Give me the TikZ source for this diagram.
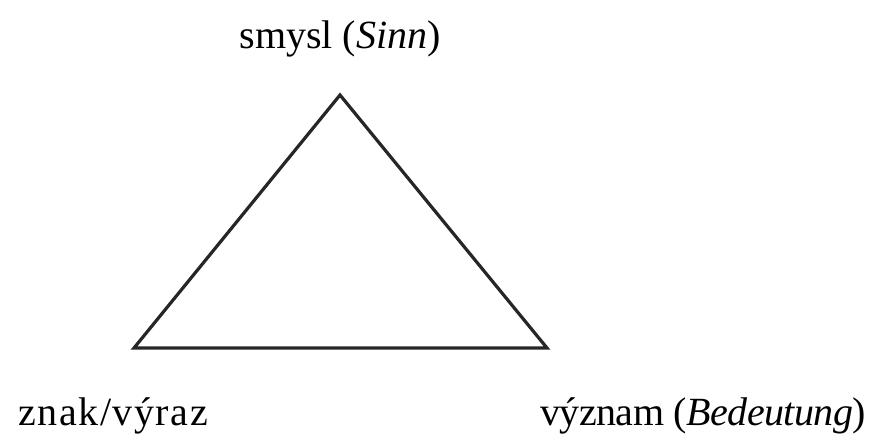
\documentclass[tikz,border=0pt]{standalone}
\usepackage{fontspec}
\setmainfont{Liberation Serif}
\begin{document}
\begin{tikzpicture}[x=1pt,y=-1pt,
  lbl/.style={inner sep=0pt,font=\fontsize{40}{46}\selectfont},
  edge/.style={line width=3.2pt,line join=miter,draw=black!85}]
\useasboundingbox (0,0) rectangle (871,439);
\coordinate (t) at (340,95);
\coordinate (l) at (134,348);
\coordinate (r) at (547,348);
\draw[edge] (t) -- (l) -- (r) -- cycle;
\node[lbl,anchor=base] (s) at (340,48) {smysl (\textit{Sinn})};
\node[lbl,anchor=base west] (z) at (18,425) {\addfontfeatures{LetterSpace=4}znak/výraz};
\node[lbl,anchor=base east] (v) at (866,425) {\addfontfeatures{LetterSpace=-1.5}význam (\textit{Bedeutung})};
\end{tikzpicture}
\end{document}
